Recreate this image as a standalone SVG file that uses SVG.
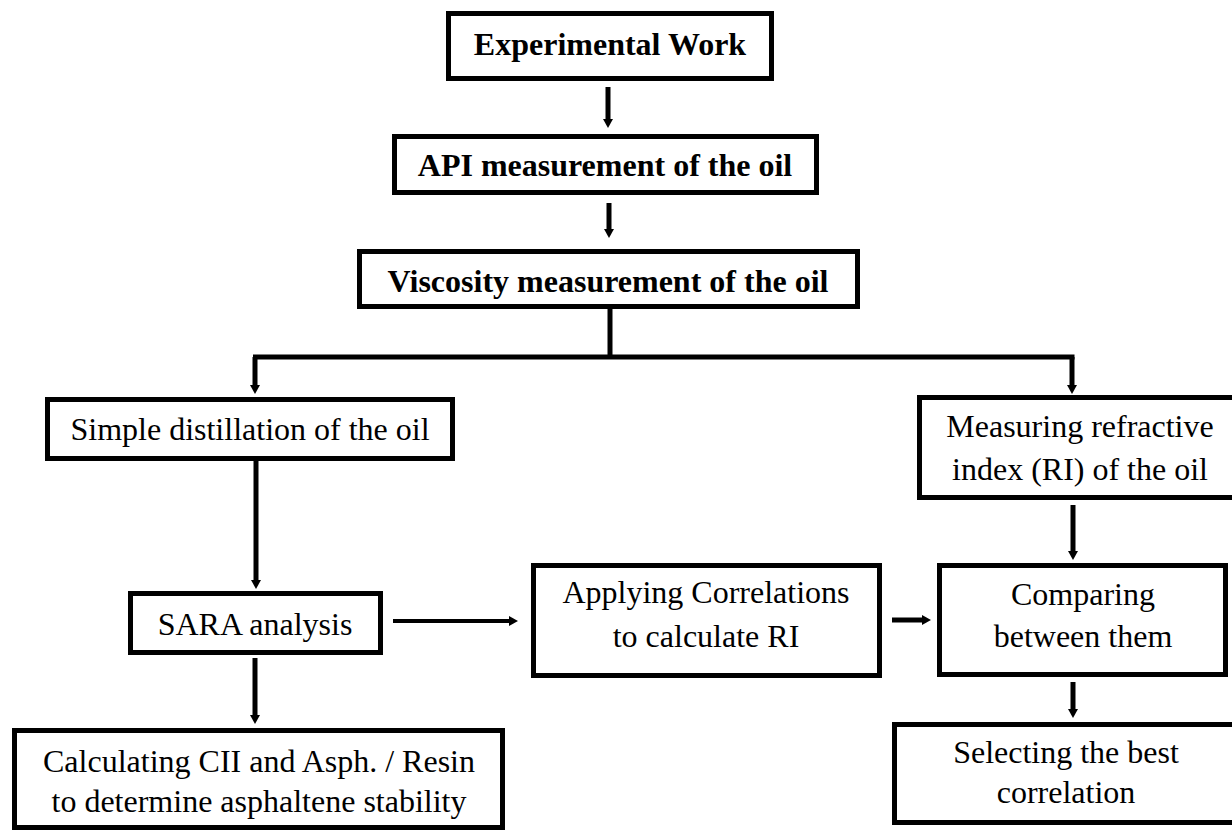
<svg xmlns="http://www.w3.org/2000/svg" width="1232" height="831" viewBox="0 0 1232 831">
<style>
.box{fill:#fff;stroke:#000;stroke-width:5}
.t{font-family:"Liberation Serif","Times New Roman",serif;font-size:32px;fill:#000;text-anchor:middle}
.b{font-weight:bold}
.c{fill:none;stroke:#000;stroke-width:5}
.ct{fill:none;stroke:#000;stroke-width:4}
</style>
<defs>
<marker id="ah" viewBox="0 0 9 10" markerWidth="9" markerHeight="10" refX="1" refY="5" orient="auto" markerUnits="userSpaceOnUse">
<path d="M0,0 L9,5 L0,10 z" fill="#000"/>
</marker>
</defs>
<rect width="1232" height="831" fill="#fff"/>
<g id="connectors">
<line class="c" x1="608" y1="87" x2="608" y2="120" marker-end="url(#ah)"/>
<line class="c" x1="609" y1="203" x2="609" y2="230" marker-end="url(#ah)"/>
<line class="c" x1="610" y1="309" x2="610" y2="357"/>
<line class="c" x1="253" y1="357" x2="1074.5" y2="357"/>
<line class="c" x1="255" y1="357" x2="255" y2="386" marker-end="url(#ah)"/>
<line class="c" x1="1072" y1="357" x2="1072" y2="386" marker-end="url(#ah)"/>
<line class="c" x1="256" y1="461" x2="256" y2="581" marker-end="url(#ah)"/>
<line class="c" x1="255" y1="658" x2="255" y2="716" marker-end="url(#ah)"/>
<line class="ct" x1="393" y1="621" x2="510" y2="621" marker-end="url(#ah)"/>
<line class="c" x1="892" y1="620" x2="923" y2="620" marker-end="url(#ah)"/>
<line class="c" x1="1073" y1="505" x2="1073" y2="552" marker-end="url(#ah)"/>
<line class="c" x1="1073" y1="682" x2="1073" y2="710" marker-end="url(#ah)"/>
</g>
<g id="exp">
<rect class="box" x="448.5" y="13.5" width="323" height="65"/>
<text class="t b" x="610" y="55">Experimental Work</text>
</g>
<g id="api">
<rect class="box" x="394.5" y="136.5" width="422" height="56"/>
<text class="t b" x="605" y="176">API measurement of the oil</text>
</g>
<g id="visc">
<rect class="box" x="359.5" y="251.5" width="498" height="55"/>
<text class="t b" x="608" y="292">Viscosity measurement of the oil</text>
</g>
<g id="simple">
<rect class="box" x="47.5" y="399.5" width="405" height="59"/>
<text class="t" x="250" y="440">Simple distillation of the oil</text>
</g>
<g id="sara">
<rect class="box" x="130.5" y="593.5" width="250" height="59"/>
<text class="t" x="255" y="635">SARA analysis</text>
</g>
<g id="calc">
<rect class="box" x="14.5" y="730.5" width="488" height="97"/>
<text class="t" x="259" y="772">Calculating CII and Asph. / Resin</text>
<text class="t" x="259" y="812">to determine asphaltene stability</text>
</g>
<g id="apply">
<rect class="box" x="533.5" y="565.5" width="346" height="110"/>
<text class="t" x="706" y="603">Applying Correlations</text>
<text class="t" x="706" y="647">to calculate RI</text>
</g>
<g id="ri">
<rect class="box" x="919.5" y="397.5" width="330" height="100"/>
<text class="t" x="1080" y="437">Measuring refractive</text>
<text class="t" x="1080" y="480">index (RI) of the oil</text>
</g>
<g id="compare">
<rect class="box" x="939.5" y="565.5" width="286" height="109"/>
<text class="t" x="1083" y="605">Comparing</text>
<text class="t" x="1083" y="647">between them</text>
</g>
<g id="select">
<rect class="box" x="894.5" y="724.5" width="350" height="98"/>
<text class="t" x="1066" y="763">Selecting the best</text>
<text class="t" x="1066" y="803">correlation</text>
</g>
</svg>
